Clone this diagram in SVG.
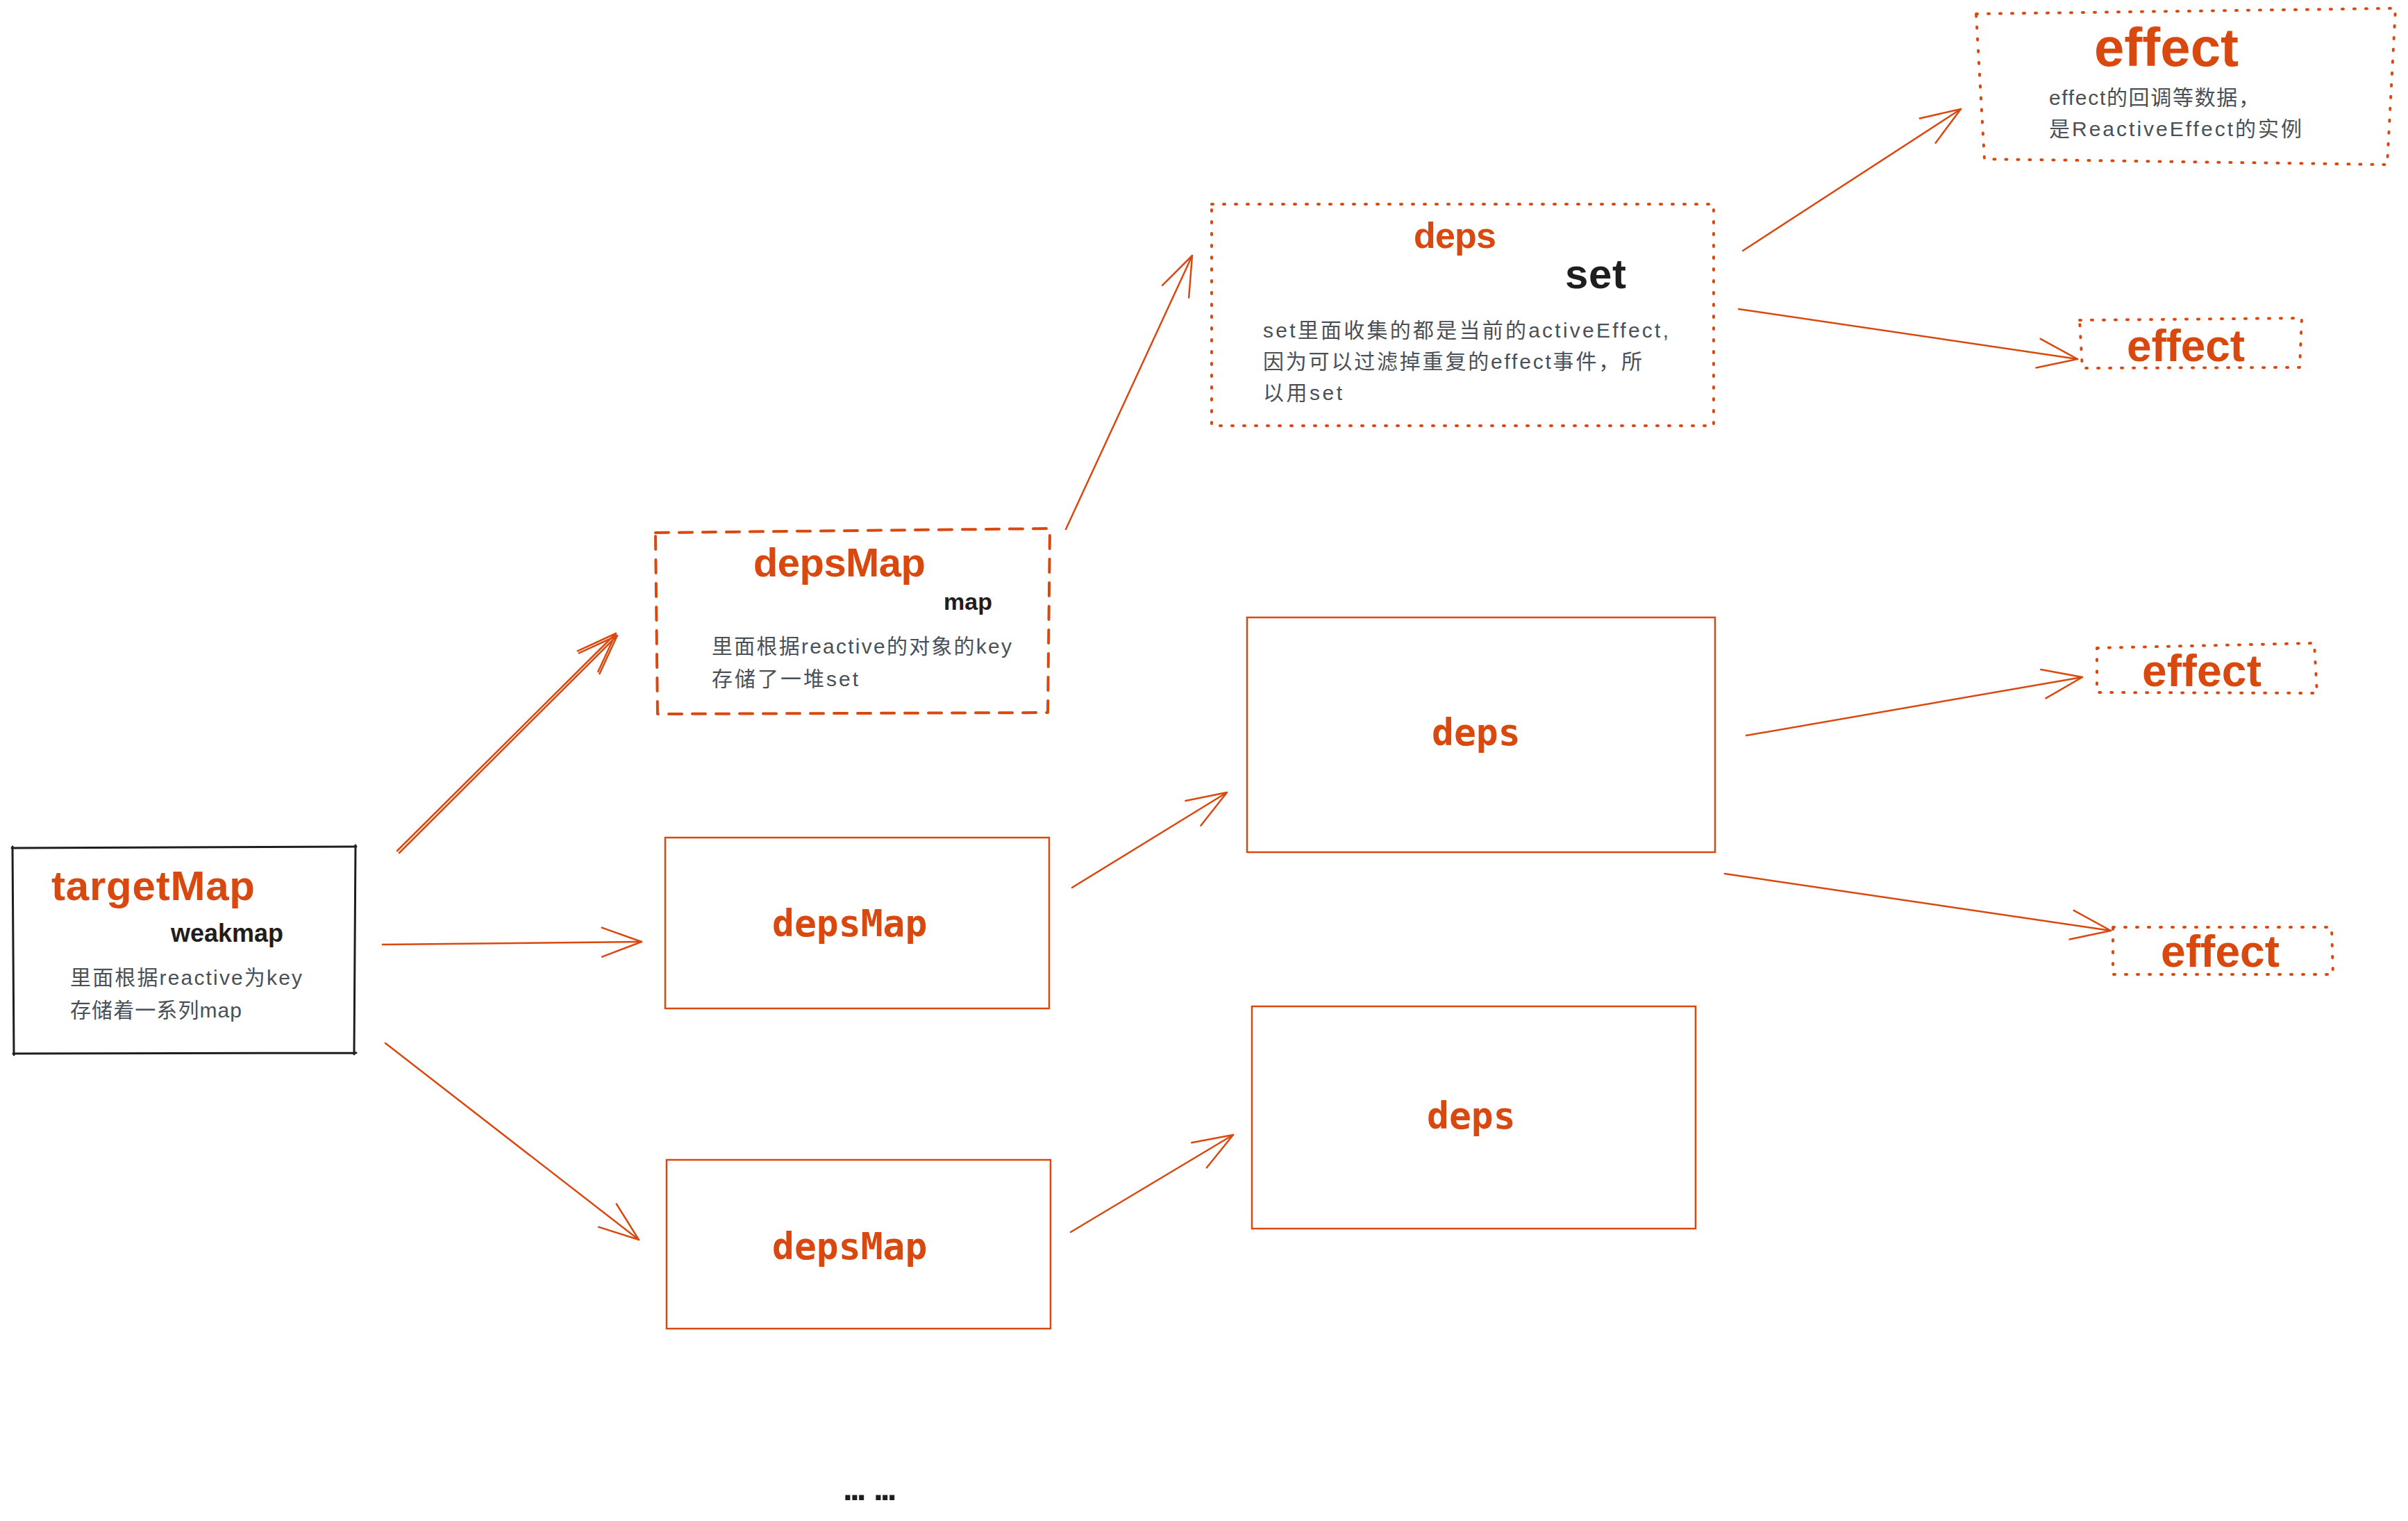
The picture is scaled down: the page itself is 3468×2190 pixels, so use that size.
<svg xmlns="http://www.w3.org/2000/svg" width="3468" height="2190" viewBox="0 0 3468 2190">
  <style>
    .hand { font-family: "Liberation Sans", "Noto Sans CJK SC", sans-serif; font-weight: bold; }
    .or { fill: #d9480f; }
    .bk { fill: #1e1e1e; }
    .body { font-family: "Liberation Sans", "Noto Sans CJK SC", sans-serif; font-size: 30px; fill: #495057; }
    .mono { font-family: "DejaVu Sans Mono", "Liberation Mono", monospace; font-size: 53px; font-weight: bold; fill: #d9480f; }
    .solid { fill: none; stroke: #d9480f; stroke-width: 2.5; }
    .dashed { fill: none; stroke: #d9480f; stroke-width: 4; stroke-dasharray: 19 15; stroke-linecap: round; stroke-linejoin: round; }
    .dotted { fill: none; stroke: #d9480f; stroke-width: 4; stroke-dasharray: 2 15; stroke-linecap: round; stroke-linejoin: round; }
    .sketch { fill: none; stroke: #1e1e1e; stroke-width: 3; stroke-linecap: round; }
    .conn { fill: none; stroke: #d9480f; stroke-width: 2.5; stroke-linecap: round; marker-end: url(#ah); }
  </style>
  <defs>
    <marker id="ah" markerUnits="userSpaceOnUse" viewBox="-70 -30 80 60" markerWidth="80" markerHeight="60" refX="0" refY="0" orient="auto" overflow="visible">
      <path d="M-57,-21 L0,0 L-57,21" fill="none" stroke="#d9480f" stroke-width="2.5" stroke-linecap="round" stroke-linejoin="round"/>
    </marker>
  </defs>
  <rect width="3468" height="2190" fill="#ffffff"/>

  <g id="connectors">
    <path class="conn" d="M572,1225 L887,912"/>
    <path class="conn" d="M575,1228 L889,915"/>
    <path class="conn" d="M551,1360 L924,1356"/>
    <path class="conn" d="M555,1502 L920,1785"/>
    <path class="conn" d="M1535,762 L1717,368"/>
    <path class="conn" d="M1544,1278 L1767,1141"/>
    <path class="conn" d="M1542,1774 L1776,1634"/>
    <path class="conn" d="M2510,361 L2824,157"/>
    <path class="conn" d="M2504,445 L2992,517"/>
    <path class="conn" d="M2515,1059 L2999,975"/>
    <path class="conn" d="M2484,1258 L3040,1340"/>
  </g>

  <g id="targetMap">
    <path class="sketch" d="M17,1221 L513,1219 M512,1217 L510,1518 M513,1516 L19,1517 M20,1519 L18,1219"/>
    <text class="hand or" x="74" y="1296" font-size="60" textLength="293">targetMap</text>
    <text class="hand bk" x="246" y="1356" font-size="36" textLength="162">weakmap</text>
    <text class="body" x="101" y="1418" textLength="334">里面根据reactive为key</text>
    <text class="body" x="101" y="1465" textLength="247">存储着一系列map</text>
  </g>

  <g id="depsMap-main">
    <path class="dashed" d="M944,767 L1512,761 L1509,1026 L947,1028 Z"/>
    <text class="hand or" x="1085" y="830" font-size="58" textLength="248">depsMap</text>
    <text class="hand bk" x="1359" y="878" font-size="34" textLength="70">map</text>
    <text class="body" x="1025" y="941" textLength="432">里面根据reactive的对象的key</text>
    <text class="body" x="1025" y="988" textLength="211">存储了一堆set</text>
  </g>

  <g id="depsMap-2">
    <rect class="solid" x="958" y="1206" width="553" height="246"/>
    <text class="mono" x="1112" y="1348">depsMap</text>
  </g>

  <g id="depsMap-3">
    <rect class="solid" x="960" y="1670" width="553" height="243"/>
    <text class="mono" x="1112" y="1813">depsMap</text>
  </g>

  <g id="deps-main">
    <path class="dotted" d="M1745,294 L2468,294 L2468,613 L1745,613 Z"/>
    <text class="hand or" x="2036" y="357" font-size="52" textLength="119">deps</text>
    <text class="hand bk" x="2254" y="415" font-size="60" textLength="88">set</text>
    <text class="body" x="1819" y="486" textLength="584">set里面收集的都是当前的activeEffect,</text>
    <text class="body" x="1819" y="531" textLength="546">因为可以过滤掉重复的effect事件，所</text>
    <text class="body" x="1819" y="576" textLength="114">以用set</text>
  </g>

  <g id="deps-2">
    <rect class="solid" x="1796" y="889" width="674" height="338"/>
    <text class="mono" x="2062" y="1073">deps</text>
  </g>

  <g id="deps-3">
    <rect class="solid" x="1803" y="1449" width="639" height="320"/>
    <text class="mono" x="2055" y="1625">deps</text>
  </g>

  <g id="effect-main">
    <path class="dotted" d="M2846,20 L3450,12 L3438,237 L2858,229 Z"/>
    <text class="hand or" x="3016" y="95" font-size="78" textLength="208">effect</text>
    <text class="body" x="2951" y="151" textLength="303">effect的回调等数据，</text>
    <text class="body" x="2951" y="196" textLength="364">是ReactiveEffect的实例</text>
  </g>

  <g id="effect-2">
    <path class="dotted" d="M2995,461 L3315,458 L3312,529 L2999,530 Z"/>
    <text class="hand or" x="3063" y="520" font-size="64" textLength="170">effect</text>
  </g>

  <g id="effect-3">
    <path class="dotted" d="M3020,933 L3333,926 L3337,998 L3020,997 Z"/>
    <text class="hand or" x="3085" y="988" font-size="64" textLength="172">effect</text>
  </g>

  <g id="effect-4">
    <path class="dotted" d="M3043,1335 L3358,1335 L3360,1403 L3043,1403 Z"/>
    <text class="hand or" x="3112" y="1392" font-size="64" textLength="171">effect</text>
  </g>

  <g id="ellipsis">
    <text class="bk" font-family="Liberation Sans, sans-serif" font-weight="bold" font-size="50" letter-spacing="-4" y="2160"><tspan x="1214">...</tspan><tspan x="1248"> ...</tspan></text>
  </g>
</svg>
